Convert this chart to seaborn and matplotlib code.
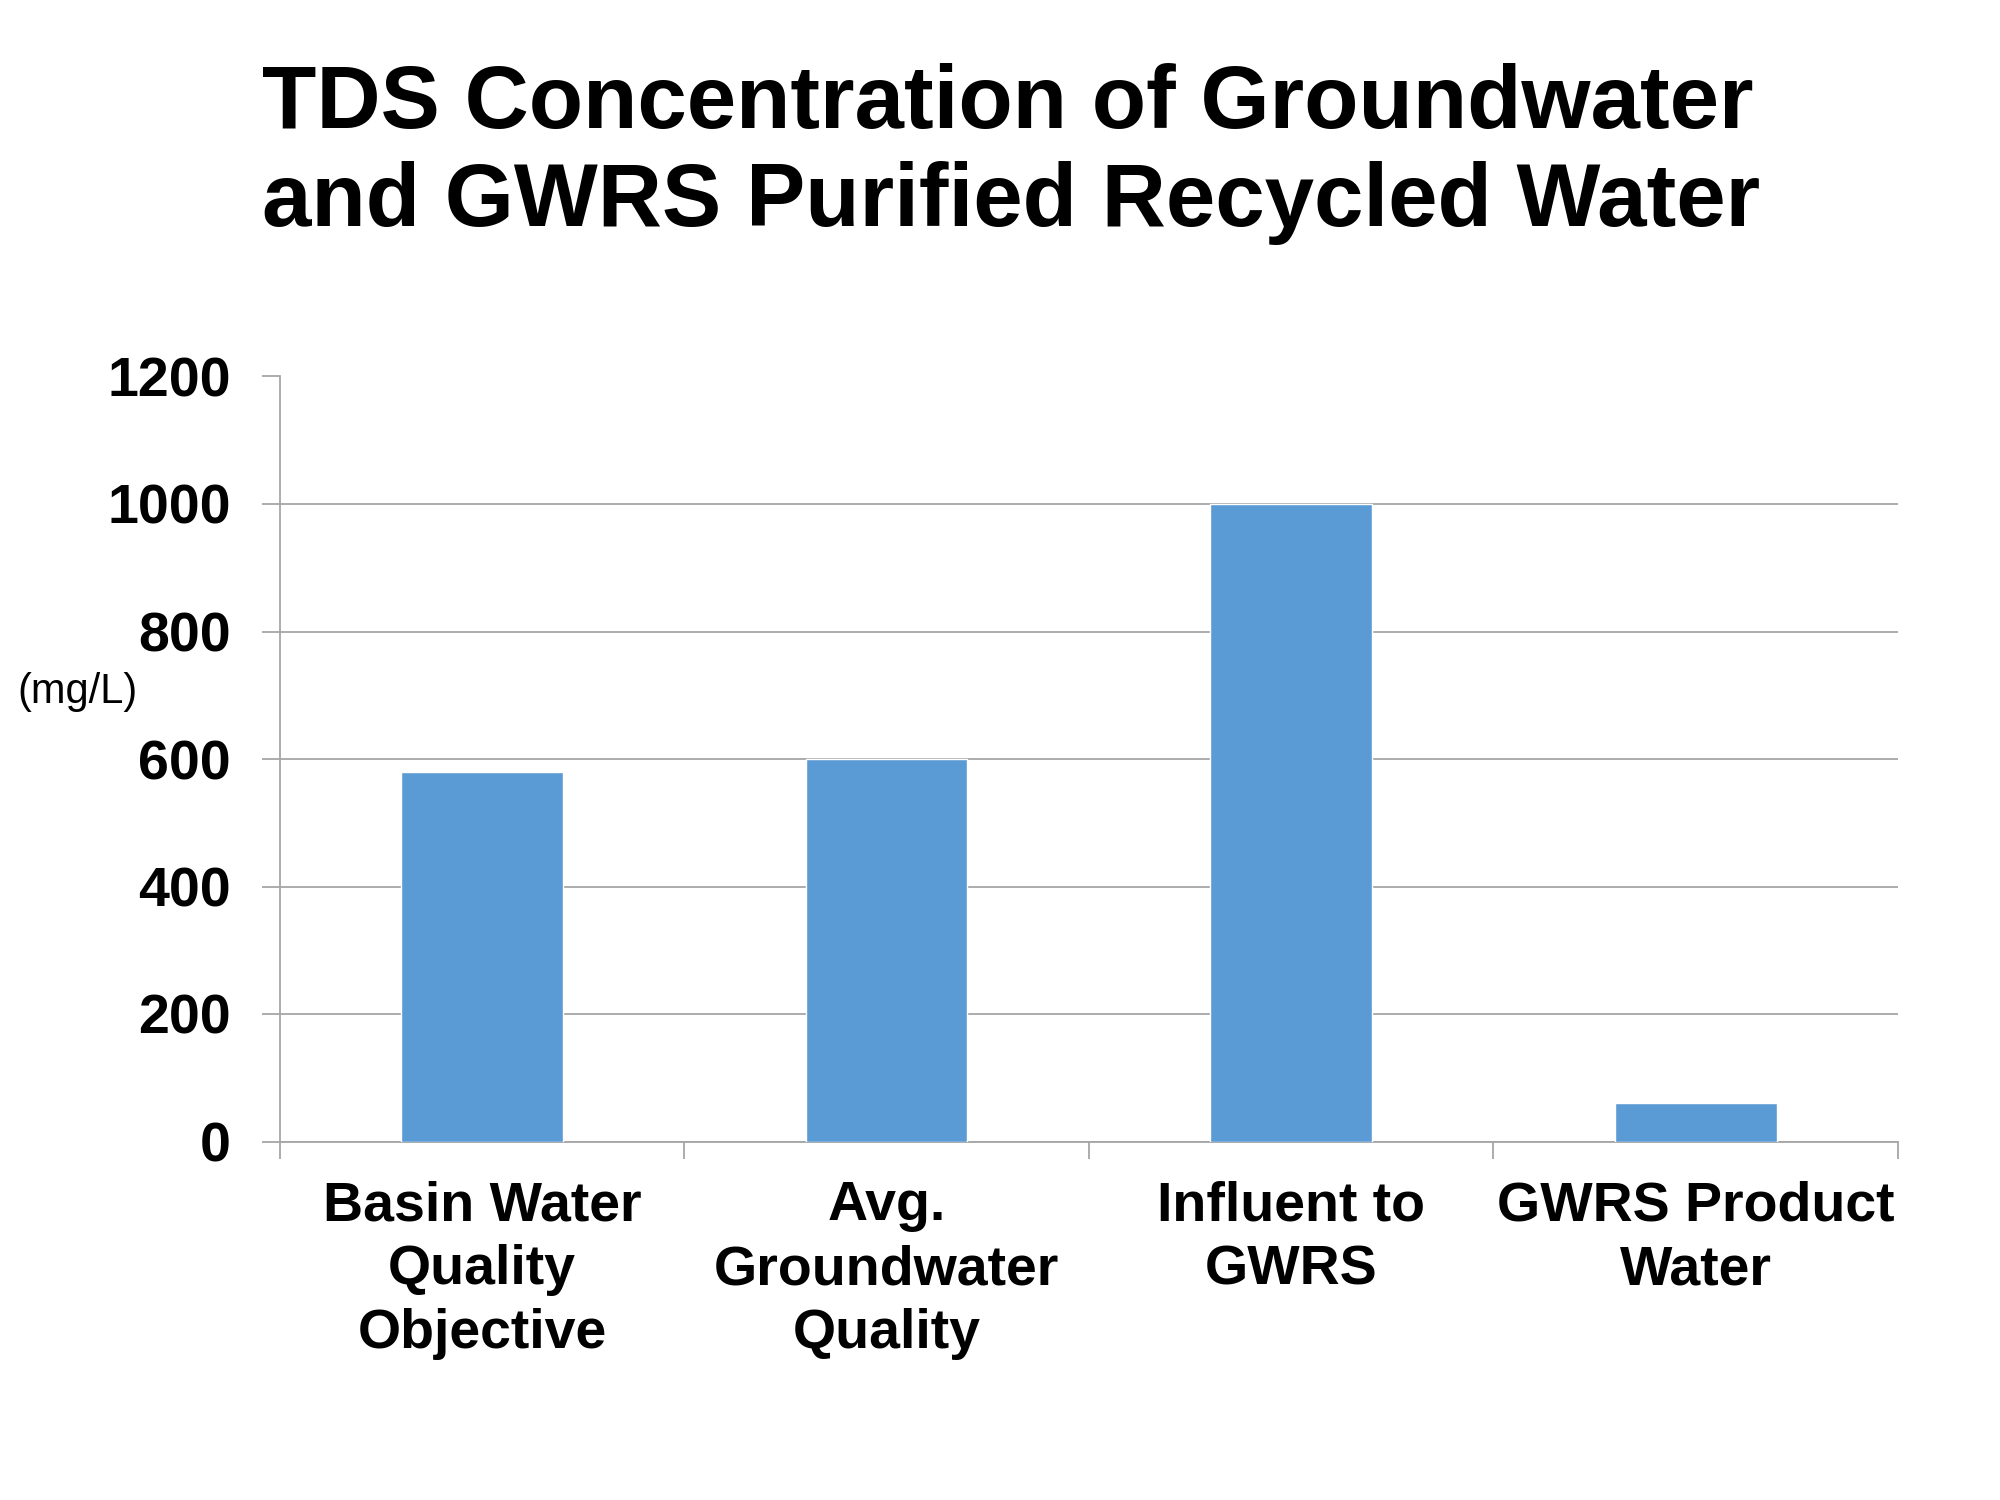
import matplotlib
matplotlib.use("Agg")
import matplotlib.pyplot as plt
import seaborn as sns
import pandas as pd

# data
categories = ["Basin Water\nQuality\nObjective",
              "Avg.\nGroundwater\nQuality",
              "Influent to\nGWRS",
              "GWRS Product\nWater"]
tds_values = [580, 600, 1000, 60]
y_ticks = [0, 200, 400, 600, 800, 1000, 1200]

title_text = "TDS Concentration of Groundwater\nand GWRS Purified Recycled Water"
unit_text = "(mg/L)"

sns.set_theme(style="white")
plt.rcParams['font.family'] = ['Liberation Sans', 'DejaVu Sans']
plt.rcParams['text.color'] = 'black'
plt.rcParams['xtick.labelcolor'] = 'black'
plt.rcParams['ytick.labelcolor'] = 'black'

df = pd.DataFrame({"category": categories, "tds": tds_values})

fig = plt.figure(figsize=(20, 15), dpi=100)
ax = fig.add_axes([0.1398, 0.239, 0.949 - 0.1398, 0.749 - 0.239])

sns.barplot(data=df, x="category", y="tds", color="#5B9BD5", saturation=1,
            width=0.4, ax=ax, zorder=3)

ax.set_xlim(-0.5, len(categories) - 0.5)
ax.set_ylim(0, 1200)
ax.set_yticks(y_ticks)
ax.set_yticklabels([str(v) for v in y_ticks], fontsize=40, fontweight='bold')
ax.yaxis.grid(True, color="#a6a6a6", linewidth=1.3, zorder=0)
ax.tick_params(axis='y', length=13, width=1.3, color="#a6a6a6", pad=22, left=True)

# category labels at centers, tick marks at boundaries
ax.set_xticks(range(len(categories)))
ax.set_xticklabels(categories, fontsize=40, fontweight='bold', linespacing=1.3)
ax.tick_params(axis='x', which='major', length=0, pad=28)
ax.set_xticks([i - 0.5 for i in range(len(categories) + 1)], minor=True)
ax.tick_params(axis='x', which='minor', length=12, width=1.3, color="#a6a6a6", bottom=True)

ax.set_xlabel("")
ax.set_ylabel("")
for side in ["top", "right"]:
    ax.spines[side].set_visible(False)
for side in ["left", "bottom"]:
    ax.spines[side].set_color("#a6a6a6")
    ax.spines[side].set_linewidth(1.3)

fig.text(0.1308, 0.958, title_text, fontsize=64, fontweight='bold',
         ha='left', va='top', linespacing=1.22)
fig.text(0.039, 0.5387, unit_text, fontsize=30, ha='center', va='center')

fig.savefig("out.png", dpi=100, facecolor="white")
